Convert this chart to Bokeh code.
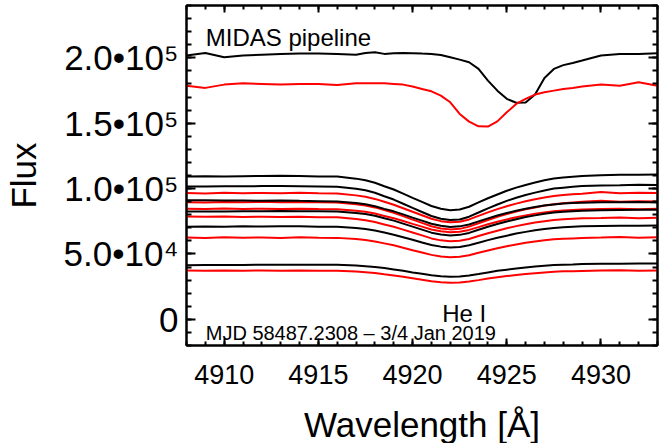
from bokeh.plotting import figure
from bokeh.models import FixedTicker, LinearAxis, Range1d, ColumnDataSource, CustomLabelingPolicy
from bokeh.core.properties import value
from bokeh.embed import file_html
from bokeh.resources import INLINE

FONT = "Liberation Sans"
FLUX_UNIT = 1000.0  # values below are in units of 1e3

WAVE = [4908, 4909, 4910, 4911, 4912, 4913, 4914, 4915, 4916, 4917,
        4917.5, 4918, 4918.5, 4919, 4919.5, 4920, 4920.5, 4921, 4921.5, 4922,
        4922.5, 4923, 4923.5, 4924, 4924.5, 4925, 4925.5, 4926, 4926.5, 4927,
        4927.5, 4928, 4928.5, 4929, 4930, 4931, 4932, 4933]

# upper pair (black / red)
TOP_BLACK = [201.7, 203.7, 200.4, 201.7, 202.4, 203.0, 203.2, 203.2, 203.0, 202.4,
             203.7, 204.2, 203.0, 203.5, 203.7, 203.5, 203.2, 203.0, 202.2, 200.4,
             198.6, 196.6, 191.5, 182.6, 174.9, 168.6, 165.6, 165.8, 172.0, 184.6,
             191.5, 194.4, 196.1, 197.9, 201.7, 203.0, 203.0, 203.4]
TOP_RED = [178.7, 177.0, 179.5, 180.5, 180.0, 179.5, 180.0, 180.0, 179.2, 180.5,
           180.5, 180.5, 180.5, 180.0, 179.5, 178.0, 176.2, 174.4, 171.1, 166.0,
           157.1, 151.2, 147.6, 147.4, 151.4, 158.3, 164.7, 168.6, 171.9, 173.6,
           174.9, 176.2, 177.0, 178.0, 179.5, 178.7, 181.3, 178.7]

# lower group, black spectra
B1 = [109.2, 109.4, 109.3, 109.5, 109.6, 109.8, 109.7, 109.3, 109.2, 107.6,
      106.4, 104.5, 101.8, 99.3, 96.1, 92.9, 89.8, 86.7, 84.6, 83.5,
      84.0, 86.1, 89.4, 92.6, 95.5, 98.3, 100.7, 102.8, 104.6, 106.3,
      107.7, 108.4, 109.0, 109.6, 110.2, 110.5, 110.6, 110.7]
B2 = [101.5, 101.6, 101.8, 101.7, 101.9, 102.0, 101.8, 101.6, 101.4, 99.9,
      98.7, 96.8, 94.1, 91.6, 88.4, 85.2, 82.1, 79.0, 76.9, 75.9,
      76.4, 78.5, 81.7, 84.9, 87.8, 90.6, 93.0, 95.1, 96.9, 98.6,
      100.0, 100.7, 101.4, 101.9, 102.4, 102.6, 102.9, 102.8]
B3 = [91.0, 91.1, 90.8, 90.9, 90.7, 90.9, 90.6, 90.4, 90.1, 88.9,
      88.0, 86.5, 84.5, 82.6, 80.3, 77.8, 75.5, 73.1, 71.5, 70.7,
      71.1, 72.5, 74.9, 77.2, 79.4, 81.3, 83.0, 84.5, 85.9, 87.0,
      87.9, 88.5, 88.9, 89.2, 89.6, 89.5, 89.7, 89.4]
B4 = [82.4, 82.5, 82.4, 82.6, 82.6, 82.8, 82.7, 82.6, 82.4, 81.4,
      80.5, 79.2, 77.3, 75.5, 73.2, 70.9, 68.6, 66.3, 64.9, 64.1,
      64.6, 66.1, 68.5, 70.8, 72.9, 74.8, 76.6, 78.2, 79.5, 80.7,
      81.7, 82.3, 82.7, 83.1, 83.5, 83.7, 83.8, 83.9]
B5 = [70.9, 71.0, 70.9, 71.1, 71.0, 71.2, 71.1, 70.9, 70.8, 69.9,
      69.1, 67.9, 66.4, 64.7, 62.8, 60.8, 58.8, 56.9, 55.6, 54.9,
      55.3, 56.6, 58.6, 60.6, 62.4, 64.0, 65.6, 66.9, 68.1, 69.1,
      69.9, 70.4, 70.8, 71.1, 71.4, 71.6, 71.5, 71.7]
B6 = [41.4, 41.5, 41.6, 41.6, 41.8, 41.7, 41.8, 41.7, 41.7, 41.1,
      40.6, 40.1, 39.2, 38.2, 37.1, 35.9, 34.8, 33.7, 32.9, 32.5,
      32.7, 33.6, 34.7, 35.9, 37.1, 38.0, 38.9, 39.7, 40.4, 41.0,
      41.5, 41.8, 42.0, 42.3, 42.5, 42.6, 42.8, 42.8]

# lower group, red spectra
R1 = [96.6, 96.3, 96.8, 96.5, 96.7, 96.4, 96.8, 96.4, 96.2, 94.8,
      93.7, 92.1, 89.9, 87.6, 85.0, 82.3, 79.6, 76.9, 75.1, 74.2,
      74.6, 76.4, 79.1, 81.8, 84.3, 86.5, 88.5, 90.3, 91.9, 93.2,
      94.4, 95.1, 95.7, 96.0, 97.3, 96.5, 96.8, 96.7]
R2 = [89.6, 89.4, 89.8, 89.5, 89.9, 89.6, 89.8, 89.5, 89.4, 88.1,
      87.0, 85.6, 83.5, 81.4, 78.9, 76.3, 73.8, 71.2, 69.5, 68.8,
      69.2, 70.9, 73.5, 76.0, 78.4, 80.6, 82.5, 84.2, 85.6, 87.0,
      88.1, 88.7, 89.3, 89.9, 90.6, 90.0, 90.4, 90.1]
R3 = [84.5, 84.3, 84.7, 84.4, 84.6, 84.3, 84.6, 84.3, 84.1, 83.1,
      82.2, 80.9, 79.1, 77.3, 75.2, 73.0, 70.9, 68.7, 67.3, 66.6,
      67.0, 68.4, 70.5, 72.7, 74.7, 76.4, 78.1, 79.5, 80.7, 81.8,
      82.7, 83.2, 83.6, 84.0, 84.3, 84.6, 84.2, 84.5]
R4 = [78.6, 78.4, 78.7, 78.3, 78.5, 78.2, 78.5, 78.1, 78.0, 76.7,
      75.8, 74.4, 72.6, 70.8, 68.6, 66.4, 64.2, 61.9, 60.4, 59.7,
      60.1, 61.5, 63.7, 65.9, 67.8, 69.7, 71.3, 72.8, 74.1, 75.1,
      76.0, 76.5, 76.9, 77.3, 77.5, 77.8, 77.4, 77.6]
R5 = [62.5, 62.3, 62.7, 62.4, 62.6, 62.3, 62.7, 62.4, 62.3, 61.4,
      60.6, 59.6, 58.1, 56.6, 54.7, 52.9, 51.1, 49.3, 48.1, 47.5,
      47.8, 49.0, 50.9, 52.7, 54.4, 55.9, 57.3, 58.5, 59.5, 60.4,
      61.2, 61.6, 61.9, 62.2, 62.5, 62.9, 62.4, 62.8]
R6 = [37.3, 37.1, 37.4, 37.2, 37.3, 37.1, 37.4, 37.2, 37.1, 36.6,
      36.1, 35.5, 34.5, 33.6, 32.5, 31.4, 30.2, 29.1, 28.4, 28.0,
      28.2, 28.9, 30.0, 31.2, 32.2, 33.1, 33.9, 34.7, 35.3, 35.9,
      36.4, 36.7, 36.8, 37.0, 37.3, 37.5, 37.2, 37.3]

BLACK_SERIES = [TOP_BLACK, B1, B2, B3, B4, B5, B6]
RED_SERIES = [TOP_RED, R1, R2, R3, R4, R5, R6]

X_RANGE = (4908, 4933)
Y_RANGE = (-20000, 240000)
X_TICKS = [4910, 4915, 4920, 4925, 4930]
X_MINOR = list(range(4908, 4934))
Y_TICKS = [0, 50000, 100000, 150000, 200000]
Y_MINOR = list(range(-20000, 240001, 10000))
Y_LABELS = {0: "0", 50000: "5.0\u202210\u2074", 100000: "1.0\u202210\u2075",
            150000: "1.5\u202210\u2075", 200000: "2.0\u202210\u2075"}

ANNOT_X = [4909.02, 4921.57, 4909.02]
ANNOT_Y = [215300, 4700, -10600]
ANNOT_TEXT = ["MIDAS pipeline", "He I", "MJD 58487.2308 \u2013 3/4 Jan 2019"]
ANNOT_SIZE = ["24px", "24px", "20px"]

p = figure(frame_width=471, frame_height=340,
           x_range=Range1d(*X_RANGE), y_range=Range1d(*Y_RANGE),
           output_backend="svg", toolbar_location=None,
           min_border_left=186, min_border_right=5,
           min_border_top=5, min_border_bottom=98)
p.background_fill_color = "white"
p.border_fill_color = "white"
p.xgrid.visible = False
p.ygrid.visible = False
p.outline_line_color = "black"
p.outline_line_width = 2

for blk, red in zip(BLACK_SERIES, RED_SERIES):
    sb = ColumnDataSource(dict(x=WAVE, y=[v * FLUX_UNIT for v in blk]))
    sr = ColumnDataSource(dict(x=WAVE, y=[v * FLUX_UNIT for v in red]))
    p.line("x", "y", source=sb, line_color="black", line_width=2)
    p.line("x", "y", source=sr, line_color="#ff0000", line_width=2)

for tx, ty, tt, ts in zip(ANNOT_X, ANNOT_Y, ANNOT_TEXT, ANNOT_SIZE):
    p.text(x=[tx], y=[ty], text=[tt], text_font=value(FONT),
           text_font_size=ts, text_align="left", text_baseline="alphabetic",
           text_color="black")

xt = FixedTicker(ticks=X_TICKS, minor_ticks=X_MINOR)
yt = FixedTicker(ticks=Y_TICKS, minor_ticks=Y_MINOR)

xa = p.xaxis[0]
xa.ticker = xt
xa.axis_label = "Wavelength [\u00c5]"
xa.axis_label_text_font = FONT
xa.axis_label_text_font_style = "normal"
xa.axis_label_text_font_size = "35px"
xa.axis_label_standoff = 18
xa.major_label_text_font = FONT
xa.major_label_text_font_size = "27px"
xa.major_label_standoff = 19

ya = p.yaxis[0]
ya.ticker = yt
ya.major_label_overrides = Y_LABELS
ya.axis_label = "Flux"
ya.axis_label_text_font = FONT
ya.axis_label_text_font_style = "normal"
ya.axis_label_text_font_size = "35px"
ya.axis_label_standoff = 18
ya.major_label_text_font = FONT
ya.major_label_text_font_size = "35px"
ya.major_label_standoff = 8

top = LinearAxis(ticker=xt, major_label_text_font_size="1px", major_label_standoff=0,
                 major_label_policy=CustomLabelingPolicy(code="return []"))
right = LinearAxis(ticker=yt, major_label_text_font_size="1px", major_label_standoff=0,
                   major_label_policy=CustomLabelingPolicy(code="return []"))
p.add_layout(top, "above")
p.add_layout(right, "right")

for ax in (xa, top):
    ax.major_tick_in = 7
    ax.major_tick_out = 0
    ax.minor_tick_in = 4
    ax.minor_tick_out = 0
for ax in (ya, right):
    ax.major_tick_in = 9
    ax.major_tick_out = 0
    ax.minor_tick_in = 5
    ax.minor_tick_out = 0
for ax in (xa, ya, top, right):
    ax.axis_line_color = "black"
    ax.axis_line_width = 2
    ax.major_tick_line_color = "black"
    ax.major_tick_line_width = 2
    ax.minor_tick_line_color = "black"
    ax.minor_tick_line_width = 2
    ax.major_label_text_color = "black"
    ax.axis_label_text_color = "black"

open("out.html", "w").write(file_html(p, INLINE))
